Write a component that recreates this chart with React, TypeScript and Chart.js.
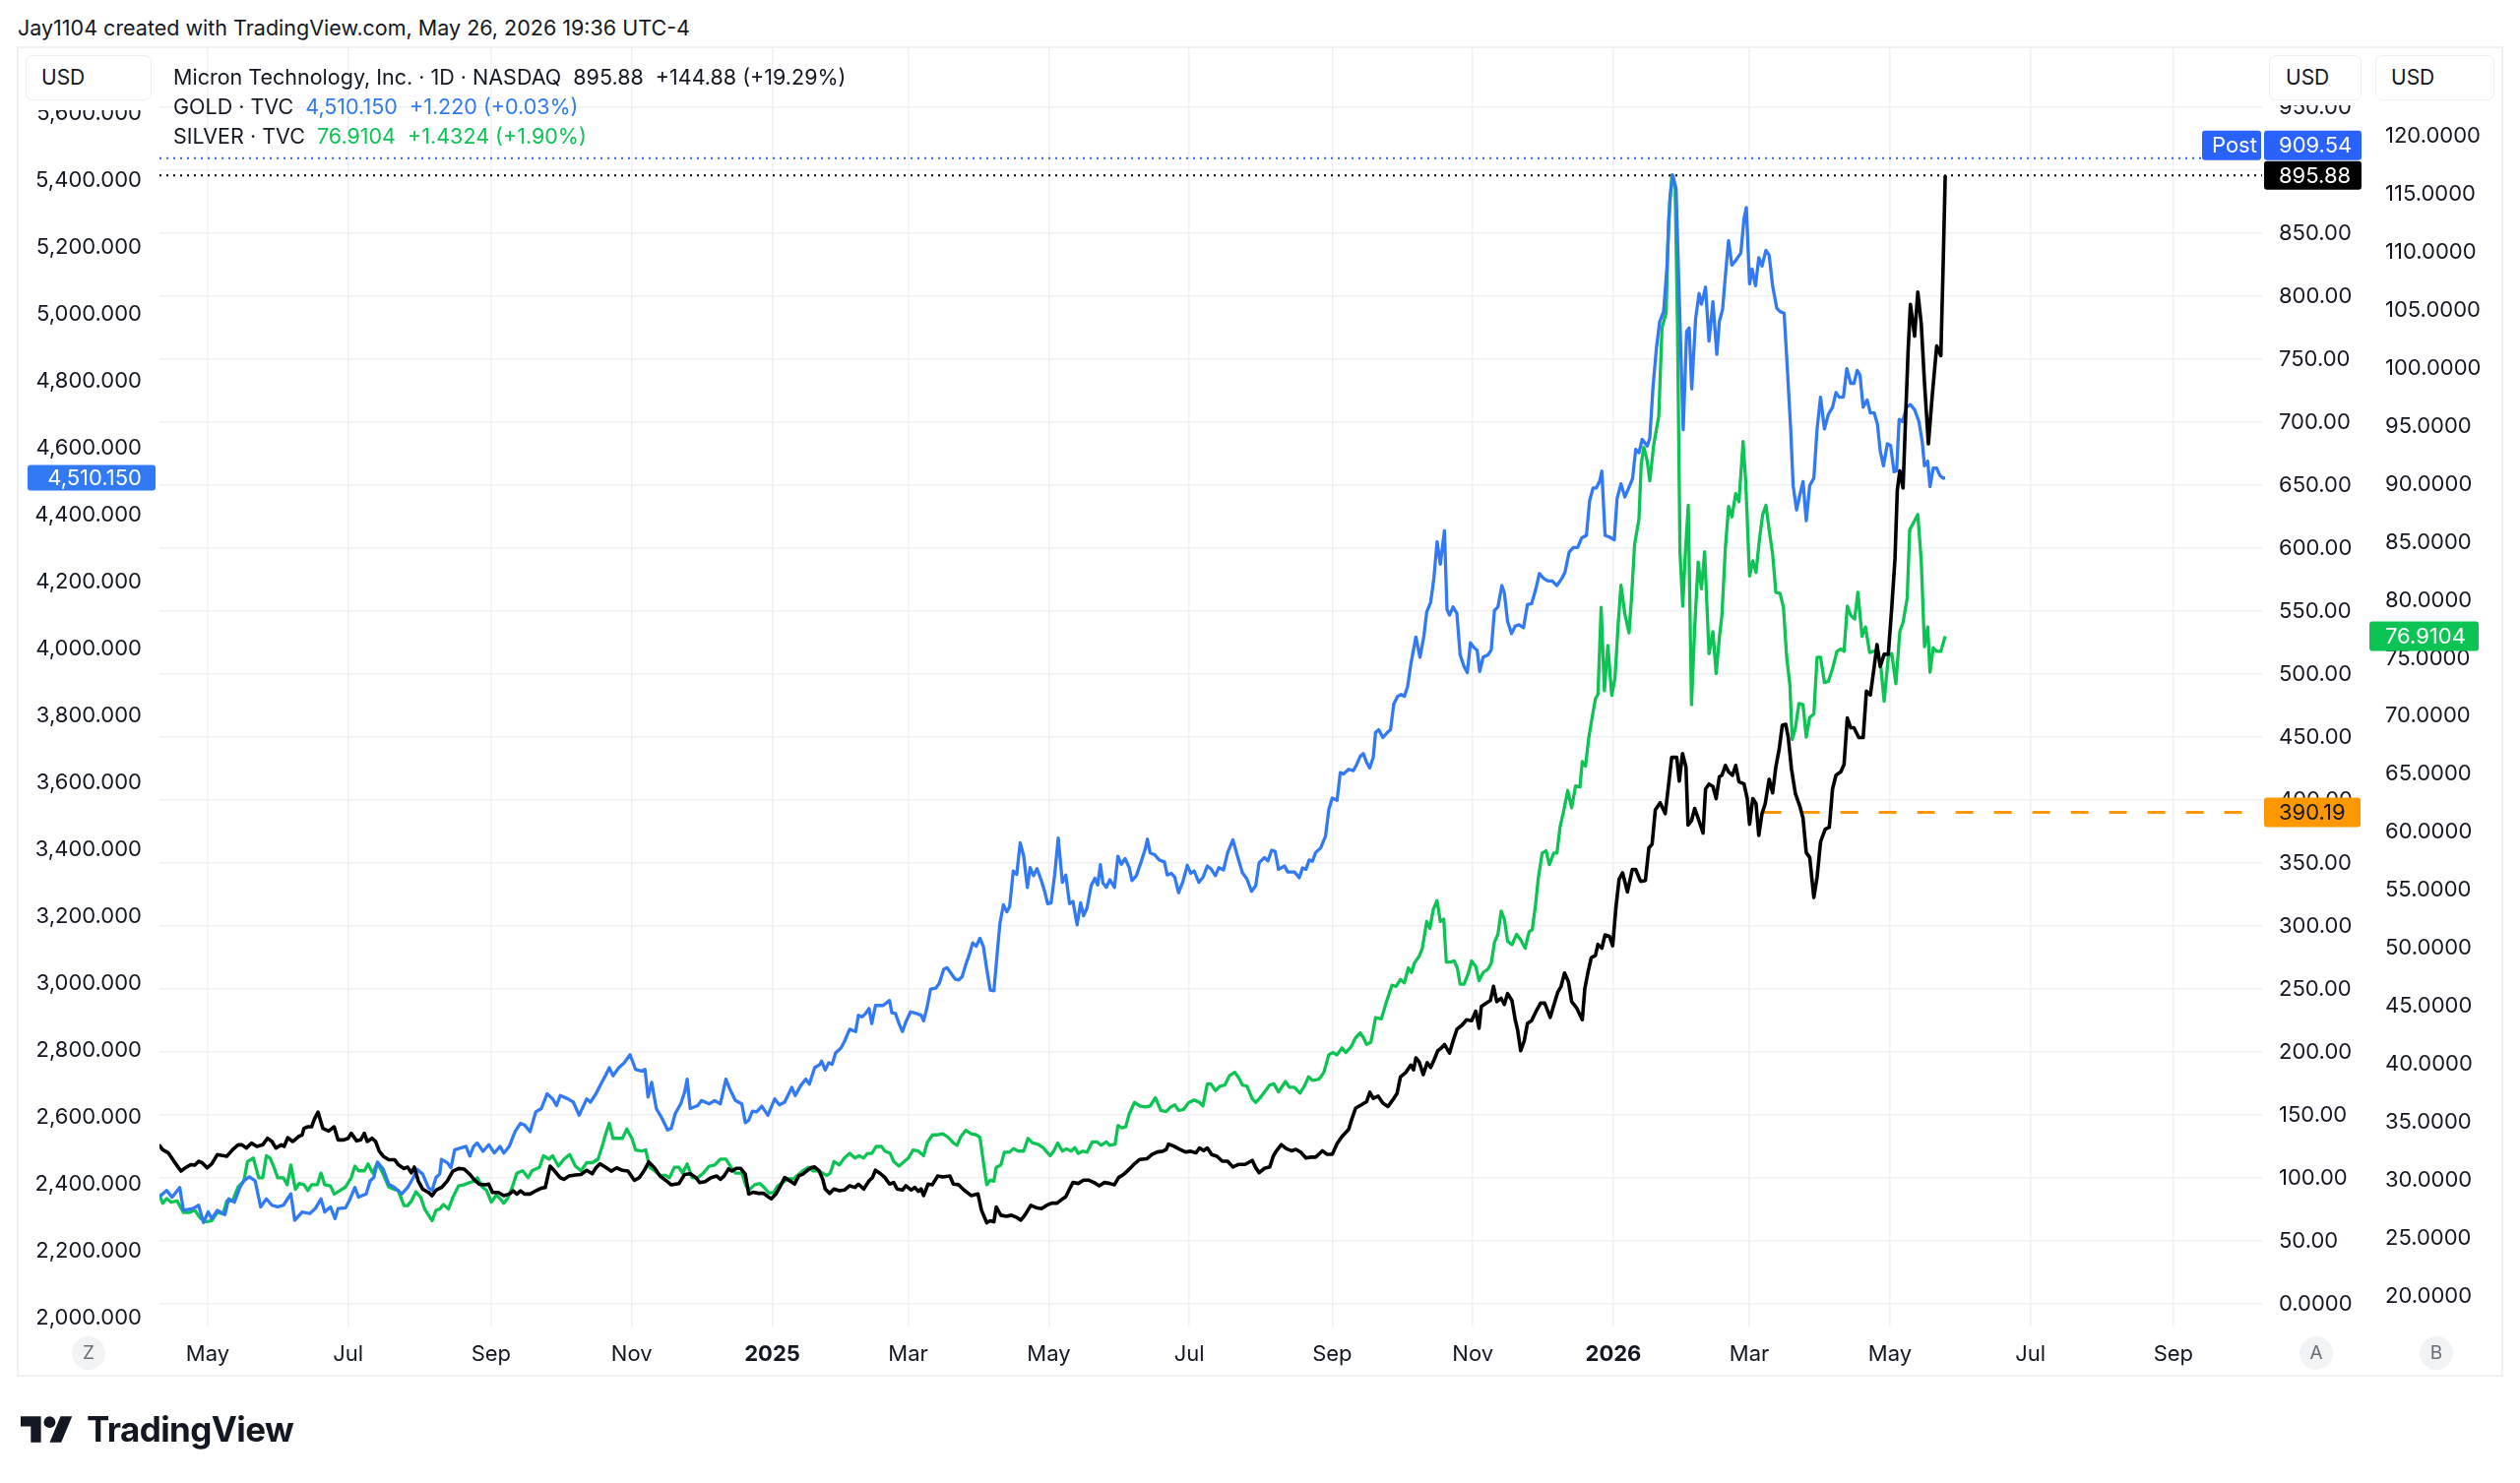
import React, { useEffect, useRef } from "react";
import { Chart, registerables } from "chart.js";

Chart.register(...registerables);

const FONT = "Inter, 'Noto Sans', Roboto, sans-serif";
const TEXT = "#131722";
const GOLD_BLUE = "#3179F5";
const POST_BLUE = "#2962FF";
const SILVER_GREEN = "#0BC453";
const ORANGE = "#FF9800";
const GRID = "#eff0f3";

// x values are calendar days counted from 2025-01-01
const monthTickDates = ["2024-05-01", "2024-07-01", "2024-09-01", "2024-11-01", "2025-01-01", "2025-03-01", "2025-05-01", "2025-07-01", "2025-09-01", "2025-11-01", "2026-01-01", "2026-03-01", "2026-05-01", "2026-07-01", "2026-09-01"];
const monthTickLabels = ["May", "Jul", "Sep", "Nov", "2025", "Mar", "May", "Jul", "Sep", "Nov", "2026", "Mar", "May", "Jul", "Sep"];

const goldTicks = [2000, 2200, 2400, 2600, 2800, 3000, 3200, 3400, 3600, 3800, 4000, 4200, 4400, 4600, 4800, 5000, 5200, 5400, 5600];
const muTicks = [0, 50, 100, 150, 200, 250, 300, 350, 400, 450, 500, 550, 600, 650, 700, 750, 800, 850, 900, 950];
const silverTicks = [20, 25, 30, 35, 40, 45, 50, 55, 60, 65, 70, 75, 80, 85, 90, 95, 100, 105, 110, 115, 120];

// visible ranges
const xRange = [-265.9, 646.5];
const goldRange = [1973.5, 5797];
const muRange = [-17.97, 997.66];
const silverRange = [17.37, 127.7];

// Micron Technology (MU) closes
const muPoints: number[][] = [
  [-266.1,126.3],[-264.5,122.4],[-262.0,119.8],[-259.6,113.2],[-256.6,105.4],[-254.7,108.0],[-252.2,110.6],[-250.6,110.1],[-248.9,113.2],[-247.3,111.9],[-245.2,108.0],[-243.2,111.2],[-240.8,118.5],[-239.1,117.9],[-236.7,117.2],[-234.2,122.4],[-231.8,126.3],[-230.1,126.3],[-228.2,123.7],[-226.0,127.6],[-223.6,125.0],[-221.1,126.3],[-219.0,131.5],[-217.1,128.9],[-215.4,123.7],[-213.0,126.3],[-211.8,125.0],[-210.2,132.0],[-208.1,128.9],[-205.6,132.8],[-204.0,134.1],[-203.2,139.3],[-201.5,140.6],[-199.9,140.6],[-198.7,146.6],[-197.1,152.3],[-195.0,139.3],[-192.5,137.2],[-190.1,140.6],[-188.4,130.2],[-186.0,130.2],[-184.0,131.5],[-182.7,135.4],[-180.3,129.4],[-178.6,130.2],[-177.0,135.4],[-175.7,128.9],[-173.7,131.5],[-172.1,128.9],[-170.5,121.1],[-168.8,117.2],[-166.4,114.5],[-163.9,114.5],[-162.3,110.6],[-159.8,107.5],[-158.2,108.6],[-156.6,104.1],[-155.3,108.6],[-153.6,97.6],[-151.7,91.1],[-149.2,88.5],[-147.6,85.9],[-145.9,90.3],[-143.5,92.4],[-141.0,97.6],[-138.6,105.4],[-136.1,107.5],[-133.7,107.0],[-131.2,102.8],[-129.1,98.1],[-127.1,95.0],[-124.7,94.5],[-123.0,95.0],[-121.4,88.5],[-118.9,88.5],[-116.5,85.9],[-114.1,87.2],[-112.4,89.8],[-110.8,87.2],[-109.2,89.8],[-107.5,87.2],[-105.1,87.2],[-102.6,89.8],[-100.2,91.9],[-98.5,92.4],[-96.4,109.3],[-94.4,105.4],[-92.0,100.2],[-90.4,98.9],[-88.2,101.5],[-85.4,102.3],[-83.0,102.8],[-80.5,106.0],[-78.1,103.3],[-76.5,108.0],[-74.8,111.2],[-72.4,108.6],[-69.9,105.4],[-67.5,108.0],[-65.0,106.0],[-62.6,105.4],[-59.8,98.1],[-57.7,100.2],[-55.5,106.0],[-53.6,112.7],[-51.1,108.0],[-48.7,101.5],[-46.2,98.1],[-43.8,94.5],[-40.5,95.5],[-38.0,102.8],[-35.6,103.3],[-33.1,100.2],[-31.5,96.3],[-29.1,97.1],[-26.6,100.2],[-24.1,101.5],[-22.5,98.9],[-20.9,101.5],
  [-19.0,107.1],[-17.5,105.5],[-15.6,107.6],[-13.7,107.6],[-11.7,103.0],[-10.2,87.3],[-8.3,88.6],[-6.0,87.8],[-3.7,87.8],[-1.9,85.2],[-0.4,83.4],[1.6,87.3],[3.6,93.8],[5.4,100.3],[7.2,98.2],[9.7,95.1],[11.5,101.6],[13.3,103.0],[14.9,105.5],[16.8,108.1],[18.4,108.7],[20.4,105.5],[21.9,99.0],[23.0,91.2],[24.9,87.8],[26.8,91.2],[29.1,89.9],[31.3,90.4],[33.6,93.8],[35.9,92.5],[37.4,95.1],[39.7,91.2],[42.0,97.7],[43.5,100.3],[44.8,106.1],[46.9,103.5],[48.9,100.3],[50.9,95.1],[52.7,96.4],[54.2,91.2],[56.5,90.4],[58.0,93.8],[60.3,90.4],[61.8,92.5],[63.4,89.4],[64.6,91.2],[65.7,86.0],[67.6,95.1],[69.5,94.6],[71.8,101.6],[74.0,100.8],[77.1,101.6],[78.6,95.1],[80.9,94.6],[83.2,90.4],[86.3,86.0],[89.3,87.3],[90.8,74.3],[93.1,64.4],[94.6,66.0],[96.2,65.2],[97.2,76.9],[99.2,70.4],[101.5,69.6],[103.8,70.4],[106.1,68.6],[107.9,66.5],[109.9,71.2],[112.2,78.2],[114.5,76.4],[116.8,75.6],[119.0,78.2],[121.3,80.0],[123.6,80.0],[125.1,82.1],[127.4,85.2],[129.0,91.2],[130.5,96.4],[132.8,95.6],[135.1,98.2],[137.4,98.2],[139.6,96.4],[141.9,93.8],[144.2,96.4],[146.5,95.6],[148.5,94.6],[150.3,100.3],[152.6,103.0],[154.9,106.9],[157.2,111.3],[159.5,114.7],[162.5,115.2],[164.8,118.6],[167.1,120.6],[169.4,121.2],[170.9,122.5],[172.0,126.9],[174.4,125.1],[177.0,122.5],[179.3,120.6],[181.6,121.2],[183.9,119.9],[185.4,123.8],[187.2,121.7],[188.8,123.8],[190.7,118.6],[193.0,117.2],[195.3,113.3],[197.6,113.3],[199.9,108.7],[202.2,110.7],[205.2,110.7],[208.3,113.9],[209.8,108.1],[211.3,104.2],[213.6,107.6],[215.9,108.7],[217.4,117.2],[218.6,121.0],
  [220.9,126.4],[223.0,123.3],[225.2,121.5],[227.3,122.6],[229.4,120.3],[231.6,115.8],[233.7,116.5],[235.8,116.5],[238.7,121.5],[240.8,118.8],[243.0,118.8],[245.1,127.1],[247.2,132.8],[250.1,138.5],[251.5,146.8],[253.2,155.5],[255.8,158.2],[257.9,160.5],[259.3,168.0],[260.8,163.1],[262.9,165.0],[265.0,159.3],[267.2,156.7],[269.3,162.0],[271.1,166.9],[272.6,180.2],[275.0,183.9],[277.1,189.6],[278.3,185.8],[279.3,195.3],[280.7,192.3],[282.5,182.0],[284.2,191.5],[285.7,187.7],[287.1,193.4],[288.8,201.0],[290.2,202.9],[291.7,205.9],[293.9,199.1],[295.6,209.7],[297.1,218.0],[299.2,221.1],[301.3,225.6],[303.5,224.8],[305.3,232.4],[306.7,218.8],[307.7,236.2],[309.9,238.8],[311.6,240.8],[313.0,252.1],[314.4,240.0],[316.3,242.6],[317.7,237.7],[319.1,246.4],[321.0,240.8],[322.4,225.6],[323.4,218.0],[324.8,201.0],[326.3,208.6],[327.7,222.6],[329.5,224.8],[331.2,231.3],[333.4,238.8],[335.2,238.8],[337.6,227.5],[339.1,237.0],[340.9,247.6],[342.3,252.1],[343.8,262.7],[345.5,255.9],[346.9,240.0],[349.0,235.1],[351.5,225.6],[352.6,250.2],[354.0,263.5],[355.4,274.8],[357.2,276.7],[358.3,285.4],[360.0,282.4],[361.4,293.0],[363.3,291.9],[364.7,284.3],[366.1,314.6],[367.5,337.3],[369.0,342.2],[371.1,327.1],[373.2,344.9],[374.7,344.9],[376.8,335.4],[378.9,336.2],[380.4,361.9],[381.8,365.0],[383.2,392.2],[385.3,397.9],[387.5,389.2],[388.9,411.2],[390.3,433.9],[392.5,433.9],[393.6,415.0],[395.0,436.9],[396.5,426.3],[397.4,380.1],[398.9,383.6],
  [400.3,393.3],[401.8,385.5],[403.9,373.8],[405.0,408.8],[406.5,412.7],[408.2,410.8],[409.6,401.1],[411.0,418.5],[412.1,419.7],[413.6,427.5],[415.0,422.4],[416.7,419.7],[418.1,427.5],[419.5,414.6],[421.7,412.7],[423.1,401.1],[424.1,380.8],[425.5,401.1],[426.9,397.2],[428.1,371.9],[429.5,389.4],[430.9,397.2],[432.6,416.6],[434.1,405.7],[435.5,426.3],[436.9,439.9],[438.3,459.3],[439.8,460.1],[440.9,449.6],[442.3,424.4],[444.0,404.9],[445.9,395.2],[447.3,385.5],[448.7,358.3],[450.2,354.4],[452.0,322.6],[453.4,338.9],[454.9,366.8],[456.9,376.9],[458.7,378.5],[460.1,408.8],[461.6,419.7],[463.7,422.4],[465.1,428.3],[466.5,465.2],[468.0,457.4],[469.4,457.4],[471.5,449.6],[473.4,449.6],[474.8,486.5],[476.5,483.4],[478.2,506.0],[479.4,523.5],[480.8,506.0],[482.5,515.7],[484.3,515.7],[485.8,552.6],[487.2,591.5],[488.2,645.9],[489.3,661.4],[490.7,647.8],[491.9,708.1],[492.9,756.7],[493.9,793.6],[495.7,768.3],[497.1,803.3],[498.6,778.0],[500.0,731.4],[501.7,682.8],[503.3,719.7],[505.3,760.5],[507.1,752.8],[508.1,824.7],[509.0,895.88]
];

// GOLD (TVC) closes
const goldPoints: number[][] = [
  [-266.1,2360],[-262.8,2380],[-260.4,2360],[-257.1,2389],[-255.5,2321],[-251.4,2326],[-248.9,2336],[-246.8,2284],[-244.8,2316],[-243.2,2296],[-240.8,2321],[-237.5,2308],[-235.9,2355],[-233.4,2345],[-231.0,2389],[-229.3,2409],[-226.9,2421],[-224.4,2409],[-222.0,2331],[-219.5,2355],[-217.1,2336],[-214.6,2331],[-212.1,2336],[-208.9,2370],[-207.2,2291],[-204.0,2316],[-200.7,2311],[-198.3,2326],[-195.8,2355],[-194.2,2316],[-191.7,2331],[-189.7,2296],[-188.4,2326],[-185.2,2328],[-183.5,2350],[-181.1,2389],[-179.5,2360],[-176.2,2370],[-174.5,2409],[-172.9,2419],[-171.3,2465],[-168.8,2443],[-166.4,2399],[-163.9,2389],[-160.7,2370],[-158.2,2389],[-155.7,2419],[-154.1,2443],[-151.7,2429],[-149.2,2389],[-147.6,2380],[-145.9,2419],[-144.3,2429],[-143.5,2473],[-141.0,2463],[-139.4,2448],[-137.8,2502],[-135.3,2507],[-132.9,2512],[-131.2,2483],[-129.6,2512],[-128.0,2522],[-125.5,2497],[-123.0,2517],[-120.6,2492],[-118.1,2512],[-116.5,2492],[-114.1,2512],[-111.6,2556],[-109.2,2581],[-107.5,2576],[-105.1,2556],[-102.6,2615],[-100.2,2625],[-97.7,2669],[-95.3,2654],[-93.6,2634],[-92.0,2664],[-88.7,2654],[-86.3,2644],[-83.8,2605],[-80.5,2654],[-78.9,2644],[-76.5,2669],[-74.0,2703],[-72.4,2723],[-70.7,2747],[-69.1,2723],[-66.6,2747],[-64.2,2762],[-61.7,2786],[-59.3,2742],[-56.8,2737],[-55.2,2742],[-53.9,2659],[-52.3,2703],[-50.3,2625],[-47.8,2595],[-45.4,2561],[-43.8,2566],[-42.1,2610],[-39.7,2639],[-38.0,2674],[-36.9,2713],[-35.6,2625],[-32.3,2634],[-30.7,2649],[-27.4,2639],[-25.0,2649],[-22.5,2639],[-20.1,2713],[-18.4,2683],[-16.0,2649],
  [-13.2,2639],[-11.7,2583],[-10.2,2590],[-8.6,2617],[-6.8,2615],[-4.5,2632],[-1.9,2605],[1.1,2654],[3.1,2636],[5.4,2644],[8.5,2688],[10.0,2664],[12.3,2693],[14.6,2713],[16.1,2698],[18.4,2747],[20.7,2757],[21.4,2767],[23.0,2740],[24.5,2762],[26.0,2757],[27.5,2791],[29.8,2806],[31.3,2825],[33.6,2862],[36.2,2855],[37.4,2904],[39.0,2899],[40.5,2909],[42.0,2924],[43.2,2879],[44.8,2933],[48.1,2933],[50.9,2948],[51.9,2911],[53.5,2909],[55.0,2879],[56.5,2855],[58.0,2884],[60.0,2914],[62.6,2909],[64.6,2904],[65.7,2887],[67.2,2928],[68.7,2982],[71.0,2985],[72.5,2999],[74.4,3041],[75.9,3046],[77.4,3031],[79.4,3012],[80.9,3009],[82.4,3019],[84.0,3056],[85.5,3085],[87.0,3120],[88.5,3110],[90.1,3134],[91.6,3110],[93.1,3041],[94.6,2979],[96.2,2977],[97.7,3095],[98.8,3178],[100.3,3234],[101.8,3213],[103.0,3228],[104.6,3335],[106.1,3325],[107.6,3419],[109.1,3380],[110.7,3286],[111.9,3345],[113.4,3321],[114.9,3342],[116.8,3306],[118.3,3272],[119.5,3237],[121.0,3240],[122.6,3326],[124.1,3433],[125.9,3301],[127.4,3323],[129.0,3237],[130.5,3244],[132.3,3174],[133.8,3240],[135.1,3201],[136.6,3225],[138.4,3291],[140.0,3313],[141.2,3293],[142.4,3354],[143.5,3299],[145.0,3286],[146.5,3309],[148.5,3286],[150.0,3379],[151.5,3355],[153.1,3372],[154.9,3345],[156.1,3306],[158.0,3321],[160.2,3365],[161.8,3399],[162.8,3430],[164.0,3389],[165.9,3384],[167.9,3368],[170.2,3362],[171.4,3323],[173.2,3328],[174.7,3316],[176.3,3270],[178.1,3301],[180.1,3352],[181.6,3328],[183.1,3335],[185.1,3301],[186.9,3316],[188.8,3350],[190.3,3342],[192.3,3321],[193.8,3345],[195.8,3338],[197.6,3389],[199.9,3428],[201.9,3379],[204.0,3330],[206.0,3311],[208.0,3274],[209.8,3291],[211.3,3360],[213.6,3375],[215.1,3365],[216.7,3397],[218.2,3394],[219.7,3340],
  [222.3,3350],[223.7,3332],[226.6,3332],[228.7,3315],[230.1,3344],[231.6,3340],[233.0,3368],[234.4,3364],[235.8,3390],[238.0,3404],[240.1,3439],[241.5,3518],[243.0,3553],[245.1,3546],[246.5,3629],[247.9,3625],[250.1,3639],[252.2,3635],[253.6,3653],[255.1,3677],[256.5,3686],[257.9,3660],[259.3,3643],[260.8,3675],[261.8,3749],[263.2,3757],[265.0,3734],[266.9,3749],[268.3,3757],[269.7,3834],[271.4,3857],[272.9,3863],[274.3,3857],[275.7,3886],[277.1,3953],[279.3,4034],[281.1,3974],[282.8,4038],[284.0,4109],[285.7,4138],[287.1,4209],[288.5,4319],[289.9,4252],[291.7,4352],[292.8,4117],[293.9,4100],[295.4,4124],[297.1,4105],[298.5,3981],[300.2,3946],[301.6,3928],[303.0,4017],[304.5,4003],[305.9,3995],[307.0,3931],[308.5,3974],[310.6,3981],[312.0,3995],[313.4,4114],[314.9,4124],[316.6,4188],[317.7,4166],[319.1,4081],[320.8,4045],[322.4,4067],[324.1,4071],[326.0,4062],[327.7,4131],[329.5,4134],[331.2,4174],[332.9,4224],[334.8,4209],[336.6,4202],[338.4,4202],[340.5,4188],[342.6,4209],[344.0,4228],[345.8,4288],[347.6,4302],[349.5,4302],[351.2,4330],[353.3,4338],[354.7,4442],[356.2,4480],[357.6,4480],[359.0,4499],[360.0,4530],[361.4,4338],[363.3,4333],
  [365.4,4325],[366.6,4448],[368.3,4492],[370.0,4453],[371.8,4482],[373.3,4507],[374.7,4595],[376.1,4585],[377.5,4625],[379.7,4605],[380.8,4629],[382.2,4781],[383.7,4899],[385.1,4977],[386.8,5007],[388.2,5134],[389.6,5350],[390.8,5414],[392.2,5374],[393.6,5046],[395.3,4654],[396.8,4948],[397.9,4958],[399.0,4776],[400.7,4987],[402.2,5061],
  [403.2,5029],[405.0,5080],[406.5,4919],[408.2,5036],[409.9,4879],[411.0,4978],[412.4,5014],[413.9,5138],[415.0,5219],[416.4,5146],[418.1,5160],[420.3,5182],[421.7,5285],[422.7,5318],[424.1,5090],[425.2,5134],[426.7,5084],[428.1,5168],[429.5,5143],[431.2,5190],[432.6,5175],[434.1,5084],[435.9,5017],[437.3,5007],[439.1,5002],[440.6,4824],[442.0,4648],[443.0,4487],[444.5,4414],[445.9,4458],[447.3,4499],[448.7,4382],[450.2,4487],[452.0,4509],[453.4,4656],[454.9,4751],[456.6,4656],[458.3,4700],[460.1,4721],[461.6,4765],[463.0,4751],[464.8,4751],[466.3,4836],[468.0,4792],[469.4,4792],[470.8,4831],[472.0,4817],[473.4,4721],[475.1,4743],[476.5,4704],[478.2,4704],[479.6,4670],[480.8,4590],[482.2,4546],[483.9,4612],[485.3,4607],[486.8,4528],[487.9,4531],[489.0,4685],[490.5,4678],[492.2,4721],[493.9,4729],[495.7,4714],[497.6,4678],[499.0,4619],[500.0,4546],[501.4,4560],[502.4,4484],[503.8,4539],[505.3,4539],[506.7,4517],[508.1,4509],[509.0,4510.15]
];

// SILVER (TVC) closes
const silverPoints: number[][] = [
  [-266.1,28.8],[-264.5,28.0],[-262.8,28.4],[-260.9,28.1],[-258.2,28.2],[-255.5,27.2],[-253.0,27.2],[-250.6,27.4],[-248.1,26.7],[-245.7,26.4],[-243.2,26.5],[-240.8,27.2],[-238.3,27.1],[-236.7,28.2],[-234.2,28.2],[-231.8,29.4],[-229.3,29.9],[-227.7,31.6],[-225.2,31.9],[-222.8,30.2],[-221.1,30.2],[-219.5,32.1],[-217.9,31.9],[-216.2,31.1],[-214.6,30.2],[-212.1,30.2],[-210.5,29.6],[-208.9,31.3],[-206.9,29.2],[-205.3,29.7],[-203.2,29.6],[-201.5,29.1],[-199.9,29.6],[-197.4,29.6],[-195.8,30.6],[-194.2,29.6],[-191.7,29.5],[-190.1,28.8],[-187.6,29.1],[-185.2,29.4],[-182.7,30.2],[-181.1,31.2],[-179.5,30.8],[-177.0,30.8],[-175.4,31.4],[-173.4,30.6],[-171.3,31.5],[-168.8,30.5],[-166.4,29.4],[-163.9,29.2],[-162.3,29.1],[-159.8,27.8],[-158.2,27.8],[-156.6,28.2],[-154.6,29.0],[-152.5,28.5],[-150.8,27.5],[-149.2,27.0],[-147.6,26.5],[-145.9,27.4],[-144.3,27.5],[-142.7,27.9],[-140.5,27.5],[-138.6,28.5],[-136.1,29.5],[-133.7,29.6],[-131.2,29.8],[-129.6,29.9],[-128.0,30.2],[-125.8,29.4],[-123.9,29.1],[-121.9,28.1],[-119.8,28.7],[-118.1,28.4],[-116.5,28.0],[-114.9,28.4],[-112.8,29.4],[-110.8,30.6],[-108.3,30.8],[-105.9,30.2],[-104.3,30.8],[-101.0,31.1],[-99.3,32.1],[-96.9,31.8],[-95.3,32.1],[-92.8,31.2],[-90.4,31.8],[-87.9,32.2],[-85.4,31.2],[-83.0,30.8],[-80.5,31.5],[-78.1,31.5],[-75.6,31.8],[-73.5,33.1],[-72.4,33.9],[-70.7,34.9],[-69.1,33.6],[-66.6,33.6],[-65.0,33.6],[-63.1,34.4],[-60.9,33.6],[-59.3,32.6],[-56.8,32.5],[-54.9,32.6],[-53.2,31.1],[-51.1,30.8],[-48.7,30.4],[-46.2,30.4],[-44.6,30.2],[-42.5,31.1],[-40.5,31.1],[-38.9,30.6],[-36.9,31.4],[-34.8,30.2],[-32.3,30.2],[-29.9,30.6],[-27.4,31.2],[-25.0,31.3],[-22.5,31.8],[-20.1,31.8],[-17.9,31.1],[-16.0,30.6],
  [-15.2,30.6],[-13.2,30.6],[-11.4,29.5],[-9.8,29.2],[-7.6,29.6],[-5.3,29.7],[-3.7,29.4],[-1.5,28.9],[0.5,28.9],[2.4,29.5],[4.6,29.8],[6.9,30.1],[9.2,30.1],[11.5,30.5],[13.3,30.8],[15.8,31.1],[17.6,30.8],[19.9,30.8],[21.9,30.6],[23.7,30.4],[25.2,30.6],[26.8,31.6],[29.1,31.3],[31.3,31.9],[33.6,32.3],[35.9,31.9],[37.7,32.1],[39.7,31.9],[41.3,32.3],[43.2,32.3],[45.1,32.9],[47.4,32.9],[48.9,32.5],[51.2,32.3],[52.7,31.6],[55.0,31.2],[57.3,31.6],[59.1,31.9],[61.1,32.6],[63.4,32.5],[65.7,32.1],[67.2,33.2],[69.5,33.9],[71.8,33.9],[74.0,34.0],[76.3,33.7],[78.6,33.2],[80.2,33.0],[81.7,33.7],[84.0,34.3],[86.3,34.0],[88.5,33.9],[90.1,33.7],[91.6,31.6],[93.1,29.6],[94.6,30.0],[96.2,29.9],[97.2,31.1],[99.2,31.3],[100.7,32.4],[103.0,32.4],[104.6,32.7],[106.8,32.5],[109.1,32.5],[111.0,33.6],[112.9,33.2],[115.2,33.1],[117.5,32.8],[120.6,32.1],[122.1,32.5],[123.9,33.2],[125.9,32.5],[127.7,32.7],[129.7,32.5],[131.3,32.8],[132.8,32.3],[134.8,32.5],[136.6,32.4],[138.9,33.3],[140.9,33.3],[142.7,33.0],[145.0,33.3],[146.5,33.0],[148.8,33.1],[150.0,34.7],[151.8,34.5],[153.4,34.6],[154.9,35.7],[157.2,36.7],[159.5,36.4],[161.8,36.3],[164.0,36.4],[166.3,37.1],[168.6,36.0],[170.9,35.9],[172.9,36.3],[174.7,36.5],[176.3,36.0],[178.5,36.1],[180.8,36.7],[183.1,36.9],[185.4,36.7],[186.9,36.4],[188.8,38.3],[190.3,38.3],[192.3,37.7],[194.3,38.1],[196.4,38.2],[198.4,39.0],[200.7,39.3],[202.5,38.8],[204.0,38.2],[206.0,38.1],[208.3,37.0],[209.8,36.7],[211.3,37.0],[213.6,37.6],[215.9,38.2],[217.7,38.3],[219.7,37.6],
  [222.7,38.5],[224.4,38.0],[226.6,38.0],[229.0,37.5],[230.9,38.1],[232.7,38.9],[234.4,38.6],[237.3,38.7],[239.4,39.3],[241.5,40.8],[243.2,41.0],[245.1,40.8],[247.2,41.4],[248.9,41.0],[251.2,41.5],[252.9,42.2],[255.1,42.7],[256.5,42.3],[257.9,41.7],[259.8,41.9],[261.8,44.0],[264.3,43.9],[266.4,45.3],[268.9,46.8],[270.7,46.7],[272.6,47.3],[274.3,47.0],[276.0,48.3],[277.4,47.9],[278.6,48.7],[280.7,49.3],[282.1,50.0],[284.0,52.3],[285.4,51.7],[286.8,53.3],[288.5,54.1],[289.9,52.3],[291.4,52.5],[292.5,48.8],[294.2,48.8],[295.9,48.9],[297.3,48.3],[298.5,46.9],[300.2,46.9],[302.0,47.8],[303.5,48.9],[305.3,48.4],[306.7,47.2],[308.5,47.9],[310.6,48.2],[312.0,48.7],[313.4,50.5],[314.9,51.2],[316.3,53.2],[317.7,52.5],[319.1,50.6],[321.0,50.3],[323.0,51.2],[324.8,50.7],[326.7,50.0],[328.4,51.4],[329.8,51.6],[331.2,53.7],[332.4,56.0],[334.1,58.2],[335.8,58.4],[337.2,57.2],[339.1,58.2],[340.5,58.2],[341.9,60.5],[343.3,61.7],[345.2,63.6],[346.9,62.1],[348.6,64.0],[350.5,63.9],[351.5,66.1],[352.9,65.7],[354.3,68.1],[355.7,69.8],[357.2,71.5],[358.3,71.9],[359.7,79.4],[361.1,72.2],[362.6,76.1],[364.3,71.8],[365.7,73.3],[367.1,78.0],[368.3,81.3],[370.0,78.8],[371.8,77.2],[372.8,80.0],[374.2,84.8],[376.1,87.0],[377.1,91.8],[378.2,93.2],[379.7,92.0],[380.8,90.3],[382.5,93.4],
  [384.7,95.9],[386.1,103.5],[387.9,104.8],[388.9,112.6],[390.4,116.7],[391.8,115.7],[392.8,104.1],[393.9,84.2],
  [395.1,79.5],[396.1,83.6],[397.5,88.2],[398.9,71.0],[400.3,77.7],[401.8,83.3],[403.2,81.0],[404.6,84.2],[406.5,75.4],[408.2,77.3],[409.6,73.7],[411.0,76.8],[412.1,78.7],[413.6,84.5],[415.0,88.1],[416.4,87.2],[418.1,89.2],[419.5,88.5],[421.3,93.7],[422.4,90.3],[424.1,82.1],[425.5,83.4],[426.9,82.4],[428.4,85.3],[429.8,87.4],[431.2,88.2],[432.6,86.1],[434.1,84.0],[435.5,80.7],[437.3,80.6],[438.8,79.4],[440.2,75.1],[441.6,72.7],[442.6,68.0],[444.0,69.0],[445.5,71.1],[447.3,71.0],[448.7,68.2],[450.2,69.9],[452.0,70.2],[453.4,75.1],[454.9,75.1],[456.6,72.9],[458.3,73.0],[460.1,74.1],[462.0,75.6],[463.7,75.8],[465.1,75.6],[466.5,79.5],[468.0,78.7],[469.7,78.4],[471.1,80.7],[472.9,76.9],[474.4,77.7],[476.2,75.5],[477.9,75.6],[479.6,75.6],[481.1,74.2],[482.5,71.3],[484.3,75.1],[485.8,75.4],[487.6,72.8],[489.3,77.3],[490.7,78.1],[492.5,80.2],[493.6,86.1],[495.0,86.6],[497.1,87.4],[498.6,83.4],[500.0,76.0],[501.4,77.7],[502.4,73.8],[503.8,75.9],[505.3,75.6],[507.1,75.6],[509.0,76.9104]
];

// price marks
const muLast = 895.88;
const muPost = 909.54;
const muLineLevel = 390.19;
const muLineStartDay = 430.2;
const goldLast = 4510.15;
const silverLast = 76.9104;

const BASE = Date.UTC(2025, 0, 1);
const dayOf = (s: string) => (Date.parse(s + "T00:00:00Z") - BASE) / 86400000;
const monthTickDays = monthTickDates.map(dayOf);

const fmtGold = (v: number) => v.toLocaleString("en-US", { minimumFractionDigits: 3, maximumFractionDigits: 3 });
const fmtMU = (v: number) => (v === 0 ? "0.0000" : v.toFixed(2));
const fmtSilver = (v: number) => v.toFixed(4);

function rbox(ctx: CanvasRenderingContext2D, x: number, y: number, w: number, h: number, fill: string, r: number) {
  ctx.fillStyle = fill;
  ctx.beginPath();
  if ((ctx as any).roundRect) (ctx as any).roundRect(x, y, w, h, r);
  else ctx.rect(x, y, w, h);
  ctx.fill();
}

const marksPlugin = {
  id: "tvMarks",
  beforeDatasetsDraw(chart: any) {
    const { ctx, chartArea: ca, scales } = chart;
    const yM = scales.yMU;
    const x = scales.x;
    const yo = yM.getPixelForValue(muLineLevel);
    ctx.save();
    ctx.strokeStyle = ORANGE;
    ctx.lineWidth = 3;
    ctx.setLineDash([18, 21]);
    ctx.beginPath();
    ctx.moveTo(x.getPixelForValue(muLineStartDay), yo);
    ctx.lineTo(ca.right, yo);
    ctx.stroke();
    ctx.restore();
  },
  afterDraw(chart: any) {
    const { ctx, chartArea: ca, scales } = chart;
    const yM = scales.yMU;
    const yG = scales.yGold;
    const yS = scales.ySilver;
    ctx.save();
    const pLast = yM.getPixelForValue(muLast);
    const pPost = yM.getPixelForValue(muPost);
    const lastTop = pLast - 14.5;
    const postTop = lastTop - 31;
    const postBoxX = ca.right - 61;

    // dotted price lines
    ctx.lineWidth = 2;
    ctx.setLineDash([2, 5]);
    ctx.strokeStyle = "#000";
    ctx.beginPath();
    ctx.moveTo(ca.left, pLast);
    ctx.lineTo(ca.right, pLast);
    ctx.stroke();
    ctx.strokeStyle = POST_BLUE;
    ctx.beginPath();
    ctx.moveTo(ca.left, pPost);
    ctx.lineTo(postBoxX, pPost);
    ctx.stroke();
    ctx.setLineDash([]);

    ctx.font = `22px ${FONT}`;
    ctx.textBaseline = "middle";
    ctx.textAlign = "left";

    // MU last price
    rbox(ctx, yM.left + 2, lastTop, 99, 29, "#000000", 3);
    ctx.fillStyle = "#fff";
    ctx.fillText(muLast.toFixed(2), yM.left + 17, pLast + 1);

    // post-market
    rbox(ctx, yM.left + 2, postTop, 99, 30, POST_BLUE, 3);
    rbox(ctx, postBoxX, postTop, 60, 30, POST_BLUE, 3);
    ctx.fillStyle = "#fff";
    ctx.fillText(muPost.toFixed(2), yM.left + 17, postTop + 16);
    ctx.fillText("Post", postBoxX + 10, postTop + 16);

    // orange line label
    const pO = yM.getPixelForValue(muLineLevel);
    rbox(ctx, yM.left + 2, pO - 15, 98, 30, ORANGE, 3);
    ctx.fillStyle = TEXT;
    ctx.fillText(muLineLevel.toFixed(2), yM.left + 17, pO + 1);

    // silver label
    const pS = yS.getPixelForValue(silverLast);
    rbox(ctx, yS.left - 1, pS - 15, 111, 30, SILVER_GREEN, 3);
    ctx.fillStyle = "#fff";
    ctx.fillText(fmtSilver(silverLast), yS.left + 15, pS + 1);

    // gold label
    const pG = yG.getPixelForValue(goldLast);
    rbox(ctx, yG.left + 10, pG - 13, 130, 26, GOLD_BLUE, 3);
    ctx.fillStyle = "#fff";
    ctx.textAlign = "right";
    ctx.fillText(fmtGold(goldLast), yG.right - 18, pG + 1);
    ctx.restore();
  },
};

const tickFont = { family: FONT, size: 22 };
const noPad = (s: any) => {
  s.paddingTop = 0;
  s.paddingBottom = 0;
  s.paddingLeft = 0;
  s.paddingRight = 0;
};

export default function App() {
  const ref = useRef<HTMLCanvasElement>(null);

  useEffect(() => {
    if (!ref.current) return;
    Chart.defaults.font.family = FONT;
    const toXY = (pts: number[][]) => pts.map((p) => ({ x: p[0], y: p[1] }));
    const chart = new Chart(ref.current, {
      type: "line",
      data: {
        datasets: [
          { label: "MU", data: toXY(muPoints), yAxisID: "yMU", borderColor: "#000000", borderWidth: 3.6, pointRadius: 0, tension: 0, borderJoinStyle: "round" },
          { label: "GOLD", data: toXY(goldPoints), yAxisID: "yGold", borderColor: GOLD_BLUE, borderWidth: 3.3, pointRadius: 0, tension: 0, borderJoinStyle: "round" },
          { label: "SILVER", data: toXY(silverPoints), yAxisID: "ySilver", borderColor: SILVER_GREEN, borderWidth: 3.3, pointRadius: 0, tension: 0, borderJoinStyle: "round" },
        ],
      } as any,
      options: {
        animation: false,
        responsive: false,
        maintainAspectRatio: false,
        parsing: false,
        normalized: true,
        layout: { padding: { top: 1, left: 0, right: 0, bottom: 0 } },
        plugins: { legend: { display: false }, tooltip: { enabled: false } },
        events: [],
        scales: {
          x: {
            type: "linear",
            position: "bottom",
            min: xRange[0],
            max: xRange[1],
            afterBuildTicks: (s: any) => {
              s.ticks = monthTickDays.map((v) => ({ value: v }));
            },
            afterFit: (s: any) => {
              s.height = 50;
              noPad(s);
            },
            grid: { color: GRID, lineWidth: 1.5, drawTicks: false },
            border: { display: false },
            ticks: {
              autoSkip: false,
              maxRotation: 0,
              padding: 15,
              color: TEXT,
              font: (c: any) => ({ family: FONT, size: 22, weight: c.tick && /^\d{4}$/.test(String(c.tick.label)) ? "bold" : "normal" }),
              callback: (v: any) => {
                const i = monthTickDays.indexOf(Number(v));
                return i >= 0 ? monthTickLabels[i] : "";
              },
            },
          },
          yGold: {
            type: "linear",
            position: "left",
            min: goldRange[0],
            max: goldRange[1],
            afterBuildTicks: (s: any) => {
              s.ticks = goldTicks.map((v) => ({ value: v }));
            },
            afterFit: (s: any) => {
              s.width = 144;
              noPad(s);
            },
            grid: { drawOnChartArea: false, drawTicks: false },
            border: { display: false },
            ticks: { autoSkip: false, padding: 18, color: TEXT, font: tickFont, callback: (v: any) => fmtGold(Number(v)) },
          },
          yMU: {
            type: "linear",
            position: "right",
            weight: 0,
            min: muRange[0],
            max: muRange[1],
            afterBuildTicks: (s: any) => {
              s.ticks = muTicks.map((v) => ({ value: v }));
            },
            afterFit: (s: any) => {
              s.width = 110;
              noPad(s);
            },
            grid: { color: GRID, lineWidth: 1.5, drawTicks: false },
            border: { display: false },
            ticks: { autoSkip: false, padding: 17, color: TEXT, font: tickFont, callback: (v: any) => fmtMU(Number(v)) },
          },
          ySilver: {
            type: "linear",
            position: "right",
            weight: 1,
            min: silverRange[0],
            max: silverRange[1],
            afterBuildTicks: (s: any) => {
              s.ticks = silverTicks.map((v) => ({ value: v }));
            },
            afterFit: (s: any) => {
              s.width = 134;
              noPad(s);
            },
            grid: { drawOnChartArea: false, drawTicks: false },
            border: { display: false },
            ticks: { autoSkip: false, padding: 15, color: TEXT, font: tickFont, callback: (v: any) => fmtSilver(Number(v)) },
          },
        },
      } as any,
      plugins: [marksPlugin],
    });
    return () => chart.destroy();
  }, []);

  const usdBox = (left: number, width: number, pad: number): React.CSSProperties => ({
    position: "absolute",
    left,
    top: 56,
    width,
    height: 46,
    boxSizing: "border-box",
    border: "1.5px solid #eceef2",
    borderRadius: 7,
    background: "#fff",
    fontSize: 21,
    lineHeight: "43px",
    paddingLeft: pad,
    color: TEXT,
  });
  const circle = (cx: number): React.CSSProperties => ({
    position: "absolute",
    left: cx - 17,
    top: 1375 - 17,
    width: 34,
    height: 34,
    borderRadius: 17,
    background: "#f2f3f5",
    color: "#6a6d78",
    fontSize: 19,
    lineHeight: "34px",
    textAlign: "center",
  });
  const row = (top: number): React.CSSProperties => ({
    position: "absolute",
    left: 176,
    top,
    fontSize: 21.5,
    lineHeight: "30px",
    whiteSpace: "pre",
    color: TEXT,
  });

  return (
    <div style={{ position: "absolute", left: 0, top: 0, width: 2560, height: 1507, background: "#fff", fontFamily: FONT, color: TEXT, overflow: "hidden" }}>
      <div style={{ position: "absolute", left: 18, top: 18, fontSize: 21.5, lineHeight: "21px", whiteSpace: "pre" }}>
        Jay1104 created with TradingView.com, May 26, 2026 19:36 UTC-4
      </div>
      <div style={{ position: "absolute", left: 17, top: 47, width: 2526, height: 1352, boxSizing: "border-box", border: "2px solid #eff1f4" }} />
      <canvas ref={ref} width={2524} height={1351} style={{ position: "absolute", left: 18, top: 47, width: 2524, height: 1351 }} />
      <div style={{ position: "absolute", left: 20, top: 49, width: 140, height: 63, background: "#fff" }} />
      <div style={{ position: "absolute", left: 2300, top: 49, width: 108, height: 58, background: "#fff" }} />
      <div style={usdBox(26, 128, 15)}>USD</div>
      <div style={usdBox(2305, 94, 16)}>USD</div>
      <div style={usdBox(2413, 121, 15)}>USD</div>
      <div style={row(63)}>
        {"Micron Technology, Inc. · 1D · NASDAQ  895.88  +144.88 (+19.29%)"}
      </div>
      <div style={row(93)}>
        {"GOLD · TVC  "}
        <span style={{ color: GOLD_BLUE }}>{"4,510.150  +1.220 (+0.03%)"}</span>
      </div>
      <div style={row(123)}>
        {"SILVER · TVC  "}
        <span style={{ color: SILVER_GREEN }}>{"76.9104  +1.4324 (+1.90%)"}</span>
      </div>
      <div style={circle(90)}>Z</div>
      <div style={circle(2353)}>A</div>
      <div style={circle(2475)}>B</div>
      <svg style={{ position: "absolute", left: 21, top: 1439 }} width={53} height={27} viewBox="0 4 36 18">
        <path d="M14 22H7V11H0V4h14v18zM28 22h-8l7.5-18h8L28 22z" fill="#131722" />
        <circle cx="20" cy="8" r="4" fill="#131722" />
      </svg>
      <div style={{ position: "absolute", left: 88, top: 1435, fontSize: 35, lineHeight: "35px", fontWeight: 700, letterSpacing: -0.6, color: "#131722" }}>
        TradingView
      </div>
    </div>
  );
}
